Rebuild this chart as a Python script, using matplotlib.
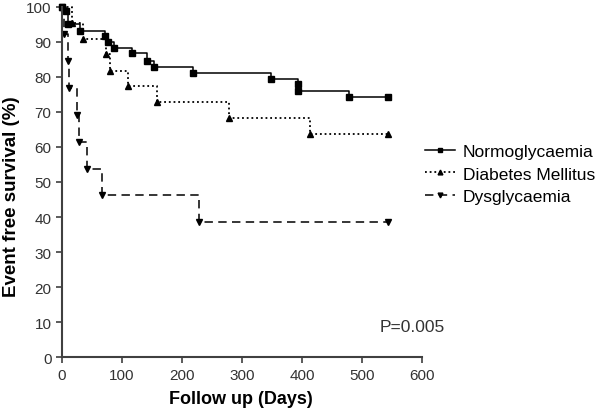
import numpy as np
import matplotlib.pyplot as plt

plt.rcParams['font.family'] = ['Liberation Sans', 'DejaVu Sans']

# Kaplan-Meier steps (days, % event free)
normo_days = [0, 6, 10, 30, 71, 76, 86, 117, 141, 153, 219, 349, 393, 394, 478, 544]
normo_surv = [100, 98.8, 95.1, 93.2, 91.6, 89.9, 88.2, 86.7, 84.6, 82.9, 81.1, 79.4, 78.0, 76.0, 74.4, 74.4]

dm_days = [0, 17, 35, 73, 80, 110, 158, 279, 413, 544]
dm_surv = [100, 95.5, 90.9, 86.4, 81.8, 77.3, 72.7, 68.2, 63.6, 63.6]

dys_days = [0, 4, 10, 12, 25, 28, 42, 66, 229, 544]
dys_surv = [100, 92.3, 84.6, 76.9, 69.2, 61.5, 53.8, 46.2, 38.5, 38.5]

fig = plt.figure(figsize=[6, 4.14], dpi=100)
ax = fig.add_axes([0.1033, 0.135, 0.6, 0.846])

ax.step(normo_days, normo_surv, where='post', color='black', lw=1.1,
        marker='s', ms=4.8, clip_on=False, label='Normoglycaemia')
ax.step(dm_days, dm_surv, where='post', color='black', lw=1.3, ls=(0, (1, 1.6)),
        marker='^', ms=4.6, clip_on=False, label='Diabetes Mellitus')
ax.step(dys_days, dys_surv, where='post', color='black', lw=1.1, ls=(0, (5.5, 3.5)),
        marker='v', ms=4.6, clip_on=False, label='Dysglycaemia')

ax.set_xlim(0, 600)
ax.set_ylim(0, 100)
ax.set_xticks(np.arange(0, 601, 100))
ax.set_yticks(np.arange(0, 101, 10))
for side in ['top', 'right']:
    ax.spines[side].set_visible(False)
for side in ['left', 'bottom']:
    ax.spines[side].set_color('#404040')
    ax.spines[side].set_linewidth(1.5)
ax.tick_params(direction='out', length=4, width=1.2, color='#404040',
               labelsize=11, labelcolor='#333333')

ax.set_xlabel('Follow up (Days)', fontsize=13, fontweight='bold')
ax.xaxis.set_label_coords(0.497, -0.093)
ax.set_ylabel('Event free survival (%)', fontsize=13.5, fontweight='bold')
ax.yaxis.set_label_coords(-0.117, 0.461)

ax.text(529, 8.6, 'P=0.005', fontsize=12.5, color='#333333', va='center')

ax.legend(loc='center left', bbox_to_anchor=(1.008, 0.523), frameon=False,
          fontsize=12.5, handlelength=1.75, handletextpad=0.45, labelspacing=0.4,
          numpoints=1, markerscale=0.75, borderpad=0, borderaxespad=0)

plt.savefig('out.png')
